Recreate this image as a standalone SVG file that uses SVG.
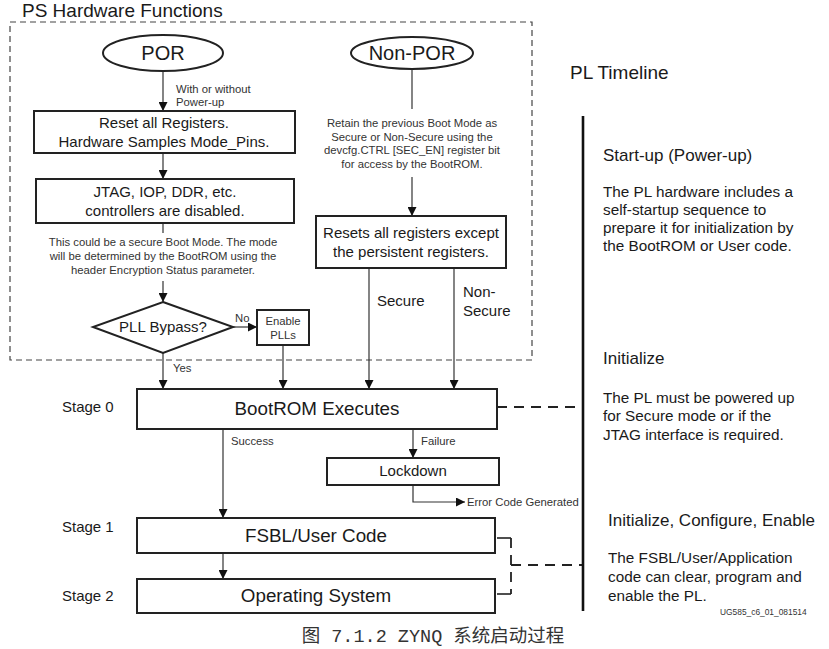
<svg xmlns="http://www.w3.org/2000/svg" width="829" height="649" viewBox="0 0 829 649">
<style>
text{font-family:"Liberation Sans",Arial,sans-serif;fill:#1a1a1a}
.box{fill:#fff;stroke:#222;stroke-width:2}
.ln{fill:none;stroke:#333;stroke-width:1.2}
.dash{fill:none;stroke:#444;stroke-width:1.2;stroke-dasharray:6 4}
.dash2{fill:none;stroke:#222;stroke-width:1.8;stroke-dasharray:10 7}
.s{font-size:11.3px;fill:#333}
.m{font-size:15px}
.l{font-size:18.8px}
.r{font-size:15px}
.rt{font-size:15.3px}
.h{font-size:17px}
</style>
<defs>
<marker id="ah" viewBox="0 0 10 10" refX="10" refY="5" markerWidth="9" markerHeight="9" markerUnits="userSpaceOnUse" orient="auto">
<path d="M0,0 L10,5 L0,10 z" fill="#111"/>
</marker>
</defs>
<rect width="829" height="649" fill="#fff"/>
<text x="22" y="17" style="font-size:19px">PS Hardware Functions</text>
<rect x="10" y="22" width="522" height="338" class="dash"/>

<g id="connectors">
<path class="ln" d="M163,71 V111" marker-end="url(#ah)"/>
<path class="ln" d="M163,153 V179" marker-end="url(#ah)"/>
<path class="ln" d="M163,223 V233"/>
<path class="ln" d="M163,281 V302" marker-end="url(#ah)"/>
<path class="ln" d="M233,327 H257" marker-end="url(#ah)"/>
<path class="ln" d="M163,353 V389" marker-end="url(#ah)"/>
<path class="ln" d="M283,345 V389" marker-end="url(#ah)"/>
<path class="ln" d="M412,69 V109"/>
<path class="ln" d="M412,177 V216" marker-end="url(#ah)"/>
<path class="ln" d="M369,268 V389" marker-end="url(#ah)"/>
<path class="ln" d="M454,268 V389" marker-end="url(#ah)"/>
<path class="ln" d="M223,429 V518" marker-end="url(#ah)"/>
<path class="ln" d="M413,429 V458" marker-end="url(#ah)"/>
<path class="ln" d="M413,485 V502 H465" marker-end="url(#ah)"/>
<path class="ln" d="M223,553 V579" marker-end="url(#ah)"/>
<path class="dash2" d="M497,407 H583"/>
<path class="ln" style="stroke:#222;stroke-width:1.6" d="M497,538 H511"/>
<path class="ln" style="stroke:#222;stroke-width:1.6" d="M497,594 H511"/>
<path class="dash2" d="M511,538 V594"/>
<path class="dash2" d="M511,565 H583"/>
<path d="M583,116 V611" fill="none" stroke="#111" stroke-width="2.6"/>
</g>
<text x="176" y="93" class="s">With or without</text>
<text x="176" y="106" class="s">Power-up</text>
<text x="412" y="127" class="s" text-anchor="middle">Retain the previous Boot Mode as</text>
<text x="412" y="141" class="s" text-anchor="middle">Secure or Non-Secure using the</text>
<text x="412" y="154" class="s" text-anchor="middle">devcfg.CTRL [SEC_EN] register bit</text>
<text x="412" y="168" class="s" text-anchor="middle">for access by the BootROM.</text>
<text x="163" y="246" class="s" text-anchor="middle">This could be a secure Boot Mode. The mode</text>
<text x="163" y="260" class="s" text-anchor="middle">will be determined by the BootROM using the</text>
<text x="163" y="274" class="s" text-anchor="middle">header Encryption Status parameter.</text>
<text x="235" y="322" class="s">No</text>
<text x="173" y="372" class="s">Yes</text>
<text x="377" y="306" class="r">Secure</text>
<text x="463" y="297" class="r">Non-</text>
<text x="463" y="316" class="r">Secure</text>
<text x="231" y="445" class="s">Success</text>
<text x="421" y="445" class="s">Failure</text>
<text x="467" y="506" class="s">Error Code Generated</text>

<g id="por">
<ellipse cx="163" cy="53" rx="60" ry="18" class="box"/>
<text x="163" y="60" text-anchor="middle" style="font-size:20px">POR</text>
</g>
<g id="nonpor">
<ellipse cx="412" cy="53" rx="61" ry="16" class="box"/>
<text x="412" y="60" text-anchor="middle" style="font-size:20px">Non-POR</text>
</g>
<g id="reset">
<rect x="34" y="111" width="261" height="42" class="box"/>
<text x="164" y="128" text-anchor="middle" class="m">Reset all Registers.</text>
<text x="164" y="147" text-anchor="middle" class="m">Hardware Samples Mode_Pins.</text>
</g>
<g id="jtag">
<rect x="36" y="179" width="258" height="44" class="box"/>
<text x="165" y="197" text-anchor="middle" class="m">JTAG, IOP, DDR, etc.</text>
<text x="165" y="216" text-anchor="middle" class="m">controllers are disabled.</text>
</g>
<g id="pllbypass">
<path d="M163,302 L233,327 L163,353 L93,327 z" class="box"/>
<text x="163" y="332" text-anchor="middle" class="m">PLL Bypass?</text>
</g>
<g id="enablepll">
<rect x="257" y="310" width="52" height="35" class="box"/>
<text x="283" y="325" text-anchor="middle" class="s">Enable</text>
<text x="283" y="339" text-anchor="middle" class="s">PLLs</text>
</g>
<g id="resets">
<rect x="316" y="216" width="190" height="52" class="box"/>
<text x="411" y="238" text-anchor="middle" class="m">Resets all registers except</text>
<text x="411" y="257" text-anchor="middle" class="m">the persistent registers.</text>
</g>
<g id="bootrom">
<rect x="137" y="389" width="360" height="40" class="box"/>
<text x="317" y="415" text-anchor="middle" class="l">BootROM Executes</text>
<text x="62" y="412" class="r">Stage 0</text>
</g>
<g id="lockdown">
<rect x="327" y="458" width="172" height="27" class="box"/>
<text x="413" y="476" text-anchor="middle" class="m">Lockdown</text>
</g>
<g id="fsbl">
<rect x="137" y="518" width="358" height="35" class="box"/>
<text x="316" y="542" text-anchor="middle" class="l">FSBL/User Code</text>
<text x="62" y="532" class="r">Stage 1</text>
</g>
<g id="os">
<rect x="137" y="579" width="358" height="34" class="box"/>
<text x="316" y="602" text-anchor="middle" class="l">Operating System</text>
<text x="62" y="601" class="r">Stage 2</text>
</g>

<g id="timeline">
<text x="570" y="79" style="font-size:19px">PL Timeline</text>
<text x="603" y="161" class="h">Start-up (Power-up)</text>
<text x="603" y="197" class="rt">The PL hardware includes a</text>
<text x="603" y="215" class="rt">self-startup sequence to</text>
<text x="603" y="233" class="rt">prepare it for initialization by</text>
<text x="603" y="251" class="rt">the BootROM or User code.</text>
<text x="603" y="364" class="h">Initialize</text>
<text x="603" y="403" class="rt">The PL must be powered up</text>
<text x="603" y="421" class="rt">for Secure mode or if the</text>
<text x="603" y="440" class="rt">JTAG interface is required.</text>
<text x="608" y="526" class="h">Initialize, Configure, Enable</text>
<text x="608" y="563" class="rt">The FSBL/User/Application</text>
<text x="608" y="582" class="rt">code can clear, program and</text>
<text x="608" y="601" class="rt">enable the PL.</text>
<text x="720" y="615" style="font-size:8.4px;fill:#333">UG585_c6_01_081514</text>
</g>
<text x="433" y="642" text-anchor="middle" style="font-family:'Liberation Mono','Noto Sans CJK SC',monospace;font-size:18.5px;fill:#333">图 7.1.2 ZYNQ 系统启动过程</text>
</svg>
